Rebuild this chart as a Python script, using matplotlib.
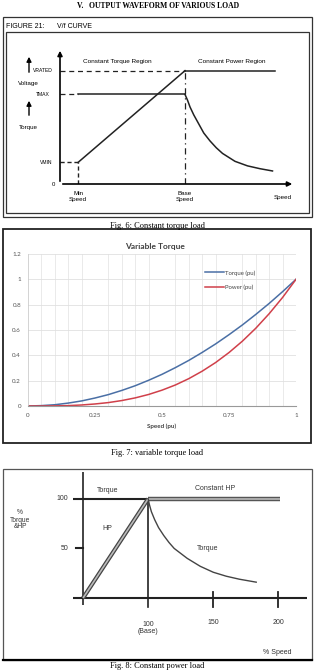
import matplotlib
matplotlib.use("Agg")
import matplotlib.pyplot as plt
from matplotlib.patches import Rectangle

W, H = 315, 671

# --- Fig. 6: V/f curve (speed in per unit of base speed) ---
min_speed, base_speed, end_speed = 0.144, 1.0, 1.72
v_min, t_max, v_rated = 0.19, 0.79, 1.0
fall_speed = [1.0, 1.02, 1.04, 1.07, 1.1, 1.15, 1.2, 1.25, 1.3, 1.4, 1.5, 1.6, 1.7]
fall_torque = [0.79, 0.74, 0.68, 0.61, 0.55, 0.45, 0.38, 0.32, 0.27, 0.20, 0.16, 0.135, 0.115]

# --- Fig. 7: variable torque ---
speed_pu = [0, 0.05, 0.1, 0.15, 0.2, 0.25, 0.3, 0.35, 0.4, 0.45, 0.5,
            0.55, 0.6, 0.65, 0.7, 0.75, 0.8, 0.85, 0.9, 0.95, 1.0]
torque_pu = [0, 0.003, 0.01, 0.023, 0.04, 0.063, 0.09, 0.123, 0.16, 0.203, 0.25,
             0.303, 0.36, 0.423, 0.49, 0.563, 0.64, 0.723, 0.81, 0.903, 1.0]
power_pu = [0, 0.0, 0.001, 0.003, 0.008, 0.016, 0.027, 0.043, 0.064, 0.091, 0.125,
            0.166, 0.216, 0.275, 0.343, 0.422, 0.512, 0.614, 0.729, 0.857, 1.0]

# --- Fig. 8: constant power ---
hp_speed = [50, 100]
hp_value = [0, 100]
chp_speed = [100, 201]
cp_torque_speed = [100, 101, 102.5, 105, 108, 112, 116, 120, 125, 130, 140, 150, 160, 170, 183]
cp_torque = [100, 94, 87, 79, 71, 63, 56, 50, 45, 40, 32, 26, 22, 19, 16]
speed_ticks = [150, 200]

narrow = ["Liberation Sans Narrow", "Liberation Sans", "DejaVu Sans"]
serif = ["Liberation Serif", "DejaVu Serif"]
sans = ["Liberation Sans", "DejaVu Sans"]


def box(x0, y0, x1, y1):
    return [x0 / W, 1 - y1 / H, (x1 - x0) / W, (y1 - y0) / H]


fig = plt.figure(figsize=(3.15, 6.71), dpi=100)
bg = fig.add_axes([0, 0, 1, 1])
bg.set_xlim(0, W)
bg.set_ylim(H, 0)
bg.axis("off")

# headings and captions
bg.text(158, 6, "V.   OUTPUT WAVEFORM OF VARIOUS LOAD", ha="center", va="center",
        fontsize=5.5, fontweight="bold", family=serif)
bg.text(157, 226, "Fig. 6: Constant torque load", ha="center", va="center", fontsize=6, family=serif)
bg.text(157, 453, "Fig. 7: variable torque load", ha="center", va="center", fontsize=6, family=serif)
bg.text(157, 666, "Fig. 8: Constant power load", ha="center", va="center", fontsize=6, family=serif)

# frames
bg.add_patch(Rectangle((3, 17), 309, 200, fill=False, ec="#333333", lw=0.9))
bg.add_patch(Rectangle((6, 32), 303, 181, fill=False, ec="#333333", lw=0.9))
bg.add_patch(Rectangle((3, 229), 308, 214, fill=False, ec="#222222", lw=1.3))
bg.add_patch(Rectangle((3, 469), 309, 191, fill=False, ec="#555555", lw=0.9))
bg.plot([3, 312], [660, 660], color="k", lw=1.6)

# ---------- Fig. 6 ----------
bg.text(6, 26, "FIGURE 21:", fontsize=5, va="center", family=narrow)
bg.text(57, 26, "V/f CURVE", fontsize=5, va="center", family=narrow)
bg.annotate("", xy=(29, 54), xytext=(29, 75),
            arrowprops=dict(arrowstyle="-|>", color="k", lw=1.0, mutation_scale=7))
bg.annotate("", xy=(29, 98), xytext=(29, 118),
            arrowprops=dict(arrowstyle="-|>", color="k", lw=1.0, mutation_scale=7))
bg.text(28, 83, "Voltage", fontsize=4.5, ha="center", va="center", family=narrow)
bg.text(28, 127, "Torque", fontsize=4.5, ha="center", va="center", family=narrow)

a1 = fig.add_axes(box(60, 48, 295, 184))
a1.set_xlim(0, 1.88)
a1.set_ylim(0, 1.2)
a1.axis("off")
a1.annotate("", xy=(0, 1.2), xytext=(0, 0),
            arrowprops=dict(arrowstyle="-|>", color="k", lw=1.2, mutation_scale=7))
a1.annotate("", xy=(1.88, 0), xytext=(0, 0),
            arrowprops=dict(arrowstyle="-|>", color="k", lw=1.2, mutation_scale=7))
a1.plot([0, base_speed], [v_rated, v_rated], color="#222222", lw=0.9, ls=(0, (4, 3)))
a1.plot([base_speed, end_speed], [v_rated, v_rated], color="#222222", lw=1.1)
a1.plot([0, min_speed], [t_max, t_max], color="#222222", lw=0.9, ls=(0, (4, 3)))
a1.plot([min_speed, base_speed], [t_max, t_max], color="#222222", lw=1.1)
a1.plot([0, min_speed], [v_min, v_min], color="#222222", lw=1.0, ls=(0, (3, 2)))
a1.plot([min_speed, min_speed], [0, v_min], color="#222222", lw=1.0, ls=(0, (3, 2)))
a1.plot([min_speed, base_speed], [v_min, v_rated], color="#222222", lw=1.1)
a1.plot([base_speed, base_speed], [0, v_rated], color="#222222", lw=0.9, ls=(0, (5, 3, 1, 3)))
a1.plot(fall_speed, fall_torque, color="#222222", lw=1.1)

a1.text(-0.06, v_rated, "VRATED", fontsize=3.6, ha="right", va="center", family=narrow)
a1.text(-0.08, t_max, "TMAX", fontsize=3.6, ha="right", va="center", family=narrow)
a1.text(-0.06, v_min, "VMIN", fontsize=3.6, ha="right", va="center", family=narrow)
a1.text(-0.04, 0, "0", fontsize=4.3, ha="right", va="center", family=narrow)
a1.text(0.46, 1.08, "Constant Torque Region", fontsize=4.6, ha="center", va="center", family=narrow)
a1.text(1.37, 1.08, "Constant Power Region", fontsize=4.6, ha="center", va="center", family=narrow)
a1.text(min_speed, -0.11, "Min\nSpeed", fontsize=4.5, ha="center", va="center",
        linespacing=1.1, family=narrow)
a1.text(base_speed, -0.11, "Base\nSpeed", fontsize=4.5, ha="center", va="center",
        linespacing=1.1, family=narrow)
a1.text(1.78, -0.115, "Speed", fontsize=4.5, ha="center", va="center", family=narrow)

# ---------- Fig. 7 ----------
lato = ["Lato", "DejaVu Sans"]
bg.text(155, 246, "Variable Torque", fontsize=6, fontweight="bold", ha="center",
        va="center", color="#404040", family=lato)
a2 = fig.add_axes(box(28, 254, 296, 406))
a2.set_facecolor("none")
a2.set_xlim(0, 1)
a2.set_ylim(0, 1.2)
a2.set_xticks([0, 0.25, 0.5, 0.75, 1])
a2.set_xticklabels(["0", "0.25", "0.5", "0.75", "1"])
a2.set_yticks([0, 0.2, 0.4, 0.6, 0.8, 1.0, 1.2])
a2.set_yticklabels(["0", "0.2", "0.4", "0.6", "0.8", "1", "1.2"])
a2.set_xticks([i * 0.05 for i in range(21)], minor=True)
a2.grid(axis="x", which="minor", color="#e6e6e6", lw=0.6)
a2.grid(axis="y", which="major", color="#e0e0e0", lw=0.6)
a2.tick_params(axis="both", which="both", length=0, labelsize=4.5,
               labelcolor="#555555", pad=5)
for s in ["top", "right"]:
    a2.spines[s].set_visible(False)
a2.spines["left"].set_color("#cccccc")
a2.spines["bottom"].set_color("#999999")
a2.spines["left"].set_linewidth(0.6)
a2.spines["bottom"].set_linewidth(0.8)
a2.plot(speed_pu, torque_pu, color="#4a6fa5", lw=1.1, label="Torque (pu)")
a2.plot(speed_pu, power_pu, color="#d0404a", lw=1.1, label="Power (pu)")
a2.set_xlabel("Speed (pu)", fontsize=4.5, fontweight="bold", color="#404040", labelpad=4)
leg = a2.legend(loc="upper left", bbox_to_anchor=(0.64, 0.93), frameon=False,
                fontsize=4.3, handlelength=3.2, handletextpad=0.2, labelspacing=1.5)
for t in leg.get_texts():
    t.set_color("#444444")
for lab in a2.get_xticklabels() + a2.get_yticklabels() + leg.get_texts():
    lab.set_family(lato)
a2.xaxis.label.set_family(lato)

# ---------- Fig. 8 ----------
a3 = fig.add_axes(box(73, 472, 307, 605))
a3.set_xlim(42.3, 222)
a3.set_ylim(-7, 127)
a3.axis("off")
a3.plot([42.3, 222], [0, 0], color="#222222", lw=1.5)
a3.plot([50, 50], [-7, 127], color="#222222", lw=1.2)
a3.plot([42.3, 100], [100, 100], color="#222222", lw=1.5)
a3.plot([44.6, 50], [50, 50], color="#222222", lw=1.5)
for sp in speed_ticks:
    a3.plot([sp, sp], [-9, 6], color="#222222", lw=1.3, clip_on=False)
a3.plot([100, 100], [-9, 100], color="#222222", lw=1.2, clip_on=False)
a3.plot(hp_speed, hp_value, color="#444444", lw=3.0, solid_capstyle="butt")
a3.plot(hp_speed, hp_value, color="#bbbbbb", lw=1.2, solid_capstyle="butt")
a3.plot(chp_speed, [100, 100], color="#555555", lw=3.2, solid_capstyle="butt")
a3.plot(chp_speed, [100, 100], color="#bbbbbb", lw=1.2, solid_capstyle="butt")
a3.plot(cp_torque_speed, cp_torque, color="#444444", lw=1.0)

txt = dict(fontsize=5, ha="center", va="center", family=sans, color="#333333")
bg.text(68, 499, "100", **{**txt, "ha": "right"})
bg.text(68, 548, "50", **{**txt, "ha": "right"})
bg.text(20, 520, "%\nTorque\n&HP", linespacing=1.0, **{**txt, "fontsize": 4.8})
bg.text(108, 490, "Torque", **txt)
bg.text(215, 488, "Constant HP", **txt)
bg.text(107, 529, "HP", **txt)
bg.text(208, 548, "Torque", **txt)
bg.text(148, 628, "100\n(Base)", linespacing=1.0, **txt)
bg.text(213, 622, "150", **txt)
bg.text(278, 622, "200", **txt)
bg.text(277, 653, "% Speed", **txt)

fig.savefig("out.png", dpi=100)
